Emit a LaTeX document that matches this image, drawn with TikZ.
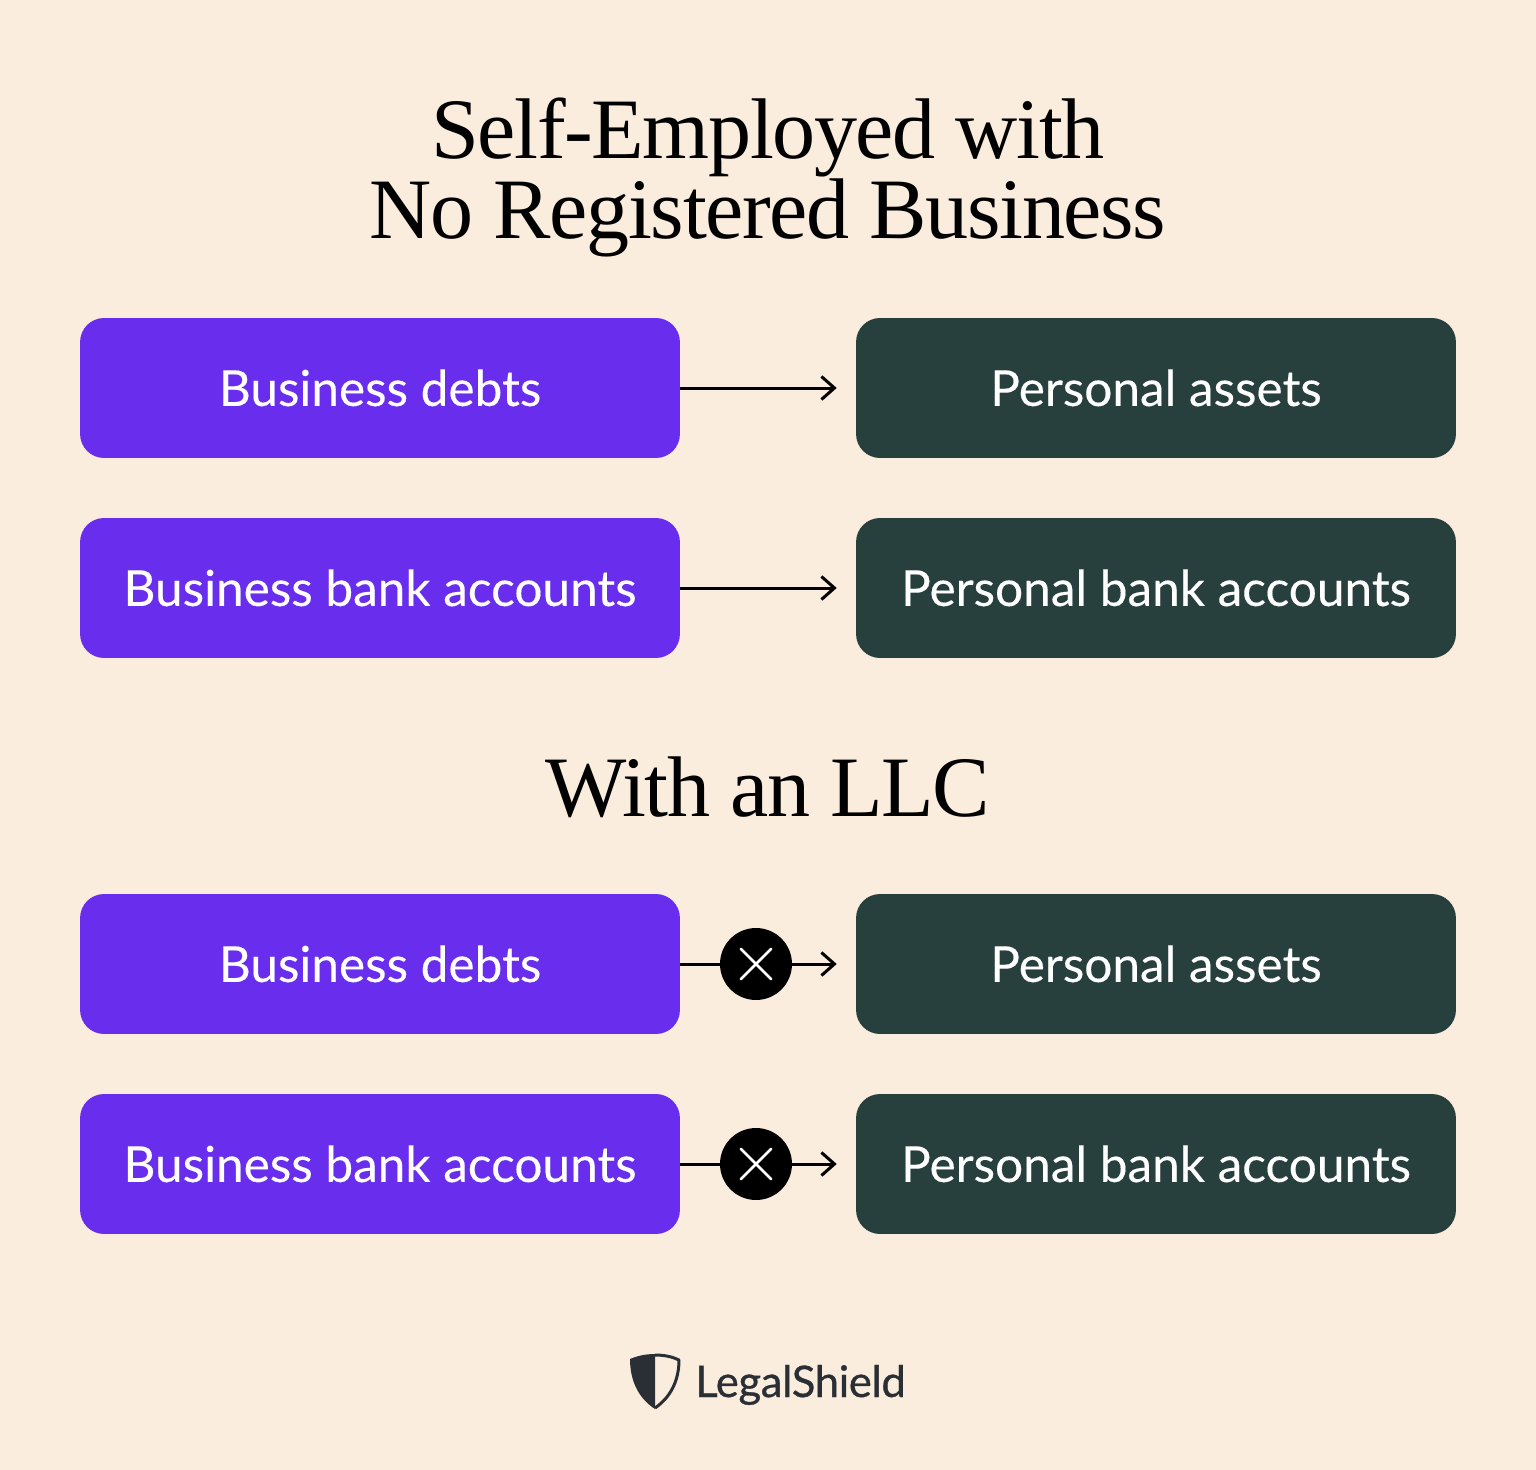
\documentclass[tikz,border=0pt]{standalone}
\usepackage{fontspec}
\setmainfont[LetterSpace=-1.6]{Liberation Serif}
\newfontfamily\boxfont[FakeBold=0.25]{Lato}
\newfontfamily\brandfont[FakeBold=0.7,LetterSpace=-0.8]{Lato}
\usetikzlibrary{arrows.meta,shapes.misc}
\definecolor{paper}{HTML}{FAEDDE}
\definecolor{violetbox}{HTML}{692DEE}
\definecolor{greenbox}{HTML}{27403E}
\definecolor{logoink}{HTML}{2A2E35}
\begin{document}
\begin{tikzpicture}[x=0.02cm,y=-0.02cm,
    bizbox/.style={rectangle,rounded corners=0.48cm,minimum width=12cm,minimum height=2.8cm,inner sep=0pt,text=white,fill=violetbox,text height=20.4pt,text depth=0pt,font=\boxfont\fontsize{28.2}{28}\selectfont},
    perbox/.style={bizbox,fill=greenbox},
    heading/.style={align=center,inner sep=0pt,font=\fontsize{49}{45.5}\selectfont},
    link/.style={draw=black,line width=0.06cm,-{Straight Barb[length=0.26cm,width=0.46cm,line width=0.06cm]},shorten >=0.38cm},
    stopmark/.style={circle,fill=black,minimum size=1.44cm,inner sep=0pt},
    crossmark/.style={cross out,draw=white,line width=0.05cm,minimum size=0.56cm,inner sep=0pt,line cap=round}]

    \fill[paper] (0,0) rectangle (1536,1470);

    \node[heading] (title1) at (768,177.5) {Self-Employed with\\No Registered Business};
    \node[heading] (title2) at (768,787) {With an LLC};

    \node[bizbox] (debts1) at (380,388) {Business debts};
    \node[bizbox] (bank1) at (380,588) {Business bank accounts};
    \node[perbox] (assets1) at (1156,388) {Personal assets};
    \node[perbox] (personal1) at (1156,588) {Personal bank accounts};

    \node[bizbox] (debts2) at (380,964) {Business debts};
    \node[bizbox] (bank2) at (380,1164) {Business bank accounts};
    \node[perbox] (assets2) at (1156,964) {Personal assets};
    \node[perbox] (personal2) at (1156,1164) {Personal bank accounts};

    \draw[link] (debts1) -- (assets1);
    \draw[link] (bank1) -- (personal1);
    \draw[link] (debts2) -- (assets2);
    \draw[link] (bank2) -- (personal2);

    \node[stopmark] (stop1) at (756,964) {};
    \node[stopmark] (stop2) at (756,1164) {};
    \node[crossmark] (cross1) at (stop1) {};
    \node[crossmark] (cross2) at (stop2) {};

    % logo
    \fill[logoink] (655,1354) .. controls (645,1354) and (637,1356) .. (630,1359) .. controls (630,1380) and (638,1398) .. (655,1409) -- cycle;
    \draw[logoink,line width=0.06cm,line join=round] (655,1355) .. controls (665,1355) and (673,1357) .. (679,1360) .. controls (679,1380) and (671,1397) .. (655,1408);
    \node[anchor=base west,inner sep=0pt,text=logoink,font=\brandfont\fontsize{24.8}{24}\selectfont] (brand) at (695,1397) {LegalShield};
\end{tikzpicture}
\end{document}
